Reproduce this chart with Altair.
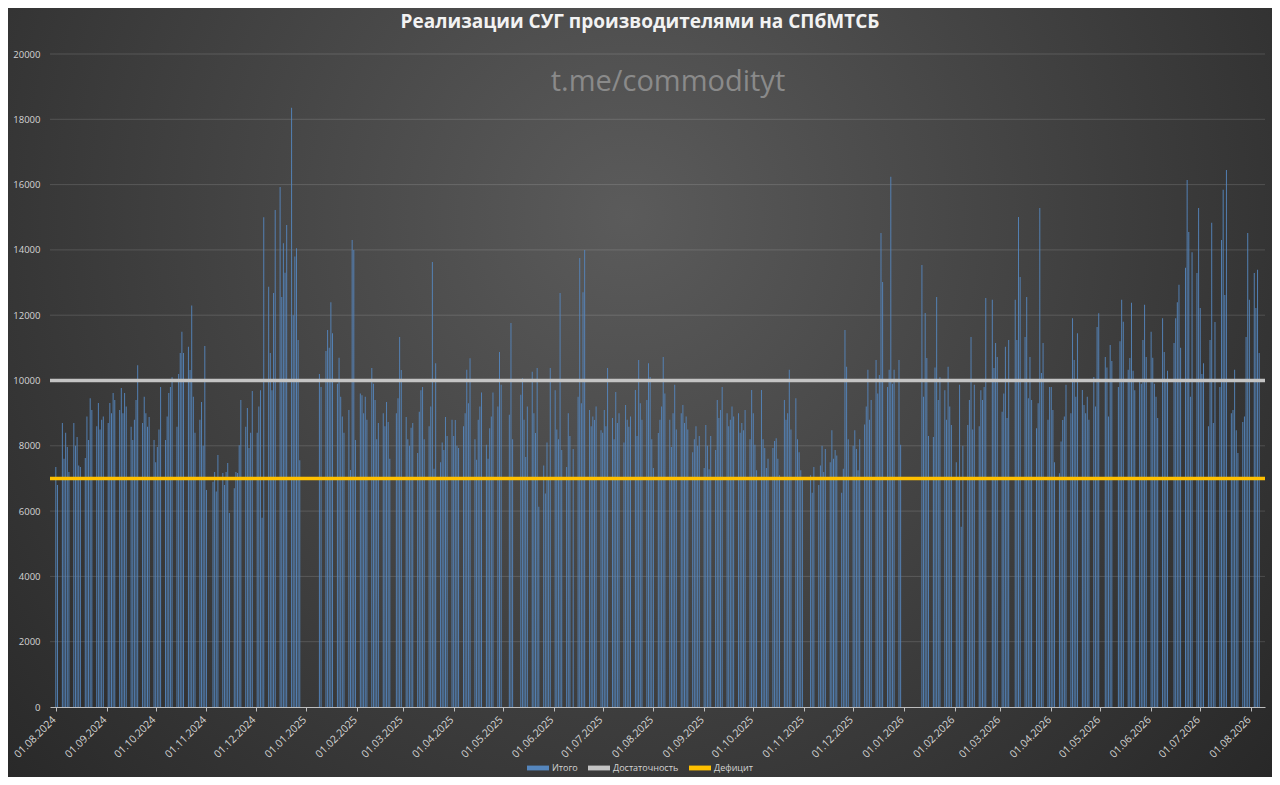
import calendar
from datetime import date

import altair as alt
import pandas as pd

# ---------------- text ----------------
title_text = "Реализации СУГ производителями на СПбМТСБ"
watermark_text = "t.me/commodityt"
series_names = ["Итого", "Достаточность", "Дефицит"]
series_colors = ["#5586bd", "#c4c4c4", "#ffc000"]

# ---------------- reference levels ----------------
sufficiency_level = 10000
deficit_level = 7000
y_ticks = [0, 2000, 4000, 6000, 8000, 10000, 12000, 14000, 16000, 18000, 20000]

# ---------------- daily values (trading days of each month) ----------------
v_2024_08 = [7350, 6800, 8700, 7600, 8400, 7960, 7200, 8700, 8000, 8270, 7400, 7350, 7630, 8900, 8180, 9460, 9100, 8600, 9310, 8500, 8800, 8900]
v_2024_09 = [8700, 9310, 9000, 9620, 9400, 9100, 9770, 9000, 9620, 9200, 8580, 8180, 8800, 9400, 10470, 8700, 9500, 9000, 8580, 8880, 8180]
v_2024_10 = [7500, 7960, 8500, 9800, 8180, 8900, 9620, 9800, 10100, 8580, 10200, 10840, 11490, 10840, 11030, 10320, 12300, 9500, 8400, 8800, 9340, 8000, 11060]
v_2024_11 = [6650, 6900, 7200, 6600, 7720, 7170, 6800, 7200, 7470, 5940, 6700, 7200, 7170, 8020, 9400, 8580, 9160, 7930, 8400, 9680]
v_2024_12 = [8400, 9200, 9700, 5800, 15000, 12870, 10840, 9700, 12680, 15220, 15930, 12560, 14200, 13300, 14760, 18350, 12000, 13800, 14050, 11240, 7560]
v_2025_01 = [10200, 9800, 10900, 11550, 11000, 12400, 11450, 9900, 10700, 9500, 8900, 8400, 9100, 7260, 14300, 14000, 8180]
v_2025_02 = [9600, 9550, 9000, 9500, 8800, 10380, 9900, 9400, 8200, 8700, 9000, 8600, 9340, 8730, 7600, 9000, 9460, 11330, 10320]
v_2025_03 = [8880, 8200, 8000, 8550, 8700, 7780, 9040, 9700, 9800, 8200, 8600, 9200, 13630, 7300, 10530, 7500, 8100, 7870, 8880, 8300, 8800]
v_2025_04 = [8300, 8790, 8000, 7930, 8600, 9000, 10330, 9300, 10680, 8200, 7570, 8800, 9200, 9630, 8030, 7600, 8540, 8900, 9630, 9200, 10870, 9870]
v_2025_05 = [8950, 11760, 8200, 9560, 10070, 8800, 7660, 9200, 10270, 9000, 8390, 10380, 6130, 7400, 6540, 8100, 7000, 10380]
v_2025_06 = [9700, 8500, 8200, 12680, 7870, 7350, 9000, 8300, 7900, 9500, 13750, 9300, 12700, 14000, 9100, 8600, 8900, 8790, 9200, 8480]
v_2025_07 = [8400, 9100, 8600, 10380, 8850, 8200, 9650, 8700, 9000, 8100, 9250, 8800, 8580, 8900, 9710, 8300, 10630, 9300, 8800, 9400, 10530, 10110, 8200]
v_2025_08 = [7320, 8390, 8800, 9200, 10720, 9600, 8800, 7960, 9000, 9870, 8500, 9000, 9250, 8700, 8900, 8500, 7800, 8200, 8600, 8000, 8300]
v_2025_09 = [7320, 8640, 8000, 7280, 8300, 7870, 9400, 8850, 9100, 9800, 9000, 8600, 8800, 9200, 8900, 9000, 8400, 8700, 8480, 9100, 8200, 9710]
v_2025_10 = [9000, 8030, 7250, 9710, 8200, 7930, 7320, 7600, 7930, 8150, 8230, 7600, 7100, 9400, 8800, 9000, 10330, 8500, 9460, 8200, 7800, 7250, 7000]
v_2025_11 = [7100, 6560, 7350, 6800, 7400, 8000, 7200, 7900, 7500, 8480, 7600, 7870, 7700, 6560, 7300, 11550, 10420, 8200]
v_2025_12 = [8000, 8480, 7900, 7250, 8200, 8650, 9200, 10330, 8800, 9400, 10630, 9600, 10170, 14520, 13020, 9800, 10330, 16240, 9900, 10330, 10630, 8030]
v_2026_01 = [13540, 9500, 12070, 10690, 8300, 8270, 10400, 12560, 9400, 10100, 9700, 8800, 10420, 9200, 8640]
v_2026_02 = [7500, 7000, 9870, 5520, 8000, 8640, 9400, 11330, 8500, 9870, 8600, 9700, 9400, 9800, 12530, 12470, 10380, 11150, 10720]
v_2026_03 = [9040, 9600, 11030, 8850, 11240, 12470, 11240, 15010, 13170, 11330, 12560, 9460, 10720, 9400, 8540, 9300, 15280, 10230, 11150, 8800, 9800]
v_2026_04 = [9800, 9100, 7500, 7160, 8130, 8790, 8900, 9870, 9000, 11910, 10630, 9500, 11450, 9710, 9250, 9000, 9500, 8800, 10110, 9200, 11640, 12060]
v_2026_05 = [10720, 10400, 8900, 11090, 10600, 9800, 11200, 12470, 11800, 10330, 10690, 12380, 10300, 9700, 10000, 9900, 11240, 12320, 10720]
v_2026_06 = [11490, 10700, 9900, 9500, 8850, 11910, 10870, 10000, 10300, 11150, 11910, 12400, 12930, 11000, 13450, 16140, 14550, 9500, 13930, 13290, 15280]
v_2026_07 = [12220, 10200, 10530, 8600, 11240, 14830, 8700, 11790, 9800, 14300, 15840, 12620, 16450, 9000, 9100, 10330, 8480, 7780, 8730, 8900, 11330, 14520, 12470]
v_2026_08 = [13290, 12220, 13390, 10840]

months = [
    (2024, 8, v_2024_08), (2024, 9, v_2024_09), (2024, 10, v_2024_10), (2024, 11, v_2024_11),
    (2024, 12, v_2024_12), (2025, 1, v_2025_01), (2025, 2, v_2025_02), (2025, 3, v_2025_03),
    (2025, 4, v_2025_04), (2025, 5, v_2025_05), (2025, 6, v_2025_06), (2025, 7, v_2025_07),
    (2025, 8, v_2025_08), (2025, 9, v_2025_09), (2025, 10, v_2025_10), (2025, 11, v_2025_11),
    (2025, 12, v_2025_12), (2026, 1, v_2026_01), (2026, 2, v_2026_02), (2026, 3, v_2026_03),
    (2026, 4, v_2026_04), (2026, 5, v_2026_05), (2026, 6, v_2026_06), (2026, 7, v_2026_07),
    (2026, 8, v_2026_08),
]

# non-trading weekdays and working Saturdays
holiday_list = [
    "2024-11-04", "2024-12-30", "2024-12-31",
    "2025-01-01", "2025-01-02", "2025-01-03", "2025-01-06", "2025-01-07", "2025-01-08",
    "2025-02-24", "2025-05-01", "2025-05-02", "2025-05-08", "2025-05-09", "2025-06-12",
    "2025-11-03", "2025-11-04", "2025-12-31",
    "2026-01-01", "2026-01-02", "2026-01-05", "2026-01-06", "2026-01-07", "2026-01-08", "2026-01-09",
    "2026-02-23", "2026-03-09", "2026-05-01", "2026-05-11", "2026-06-12",
]
working_saturdays = ["2024-12-28"]
last_date = "2026-08-06"

holidays = {date.fromisoformat(s) for s in holiday_list}
extra = {date.fromisoformat(s) for s in working_saturdays}
last_day = date.fromisoformat(last_date)

rows = []
for (yy, mm, vals) in months:
    n = calendar.monthrange(yy, mm)[1]
    days = [date(yy, mm, d) for d in range(1, n + 1)]
    days = [d for d in days if (d.weekday() < 5 or d in extra) and d not in holidays and d <= last_day]
    if len(days) != len(vals):
        raise ValueError(f"{yy}-{mm}: {len(days)} days vs {len(vals)} values")
    rows += [{"date": d.isoformat(), "value": v, "series": series_names[0]} for d, v in zip(days, vals)]
df = pd.DataFrame(rows)

# ---------------- layout ----------------
W, H = 1215, 653
PAD = {"left": 42, "top": 46, "right": 7, "bottom": 70}

x_scale = alt.Scale(
    type="utc",
    domain=[alt.DateTime(year=2024, month=7, date=31, hours=12, utc=True),
            alt.DateTime(year=2026, month=8, date=6, hours=12, utc=True)],
)
month_ticks = [alt.DateTime(year=2024 + (7 + i) // 12, month=(7 + i) % 12 + 1, date=1, utc=True) for i in range(25)]
y_scale = alt.Scale(domain=[0, 20000], nice=False)

label_color = "#d4d4d4"
font = "Open Sans"

x_axis = alt.Axis(
    title=None, values=month_ticks, format="%d.%m.%Y", labelAngle=-45, labelAlign="right",
    labelBaseline="middle", labelFontSize=10.5, labelFont=font, labelColor=label_color, labelPadding=7,
    labelOffset=-2, labelOverlap=False, labelFlush=False, grid=False, domainColor="#bdbdbd",
    domainWidth=1, tickColor="#bdbdbd", tickSize=4, zindex=1,
)
y_axis = alt.Axis(
    title=None, values=y_ticks, labelFontSize=9.5, labelFont=font, labelColor=label_color,
    labelPadding=10, domain=False, ticks=False, grid=False, zindex=1, format="d",
)

bg_gradient = {
    "gradient": "radial",
    "x1": 0.49, "y1": 0.36, "r1": 0,
    "x2": 0.49, "y2": 0.36, "r2": 0.7,
    "stops": [{"offset": 0, "color": "#5b5b5b"}, {"offset": 1, "color": "#262626"}],
}

background = alt.Chart(pd.DataFrame({"k": [0]})).mark_rect(fill=bg_gradient).encode(
    x=alt.value(-PAD["left"]), x2=alt.value(W + PAD["right"]),
    y=alt.value(-PAD["top"]), y2=alt.value(H + PAD["bottom"]),
)

grid = alt.Chart(pd.DataFrame({"g": y_ticks[1:]})).mark_rule(color="#ffffff", opacity=0.14, strokeWidth=1).encode(
    y=alt.Y("g:Q", scale=y_scale)
)

bars = alt.Chart(df).mark_bar(size=1.0, opacity=0.92).encode(
    x=alt.X("date:T", scale=x_scale, axis=x_axis),
    y=alt.Y("value:Q", scale=y_scale, axis=y_axis),
    color=alt.Color(
        "series:N",
        scale=alt.Scale(domain=series_names, range=series_colors),
        legend=alt.Legend(
            title=None, orient="none", legendX=477, legendY=703, direction="horizontal",
            symbolType="M-1,-0.22H1V0.22H-1Z", symbolSize=484, symbolStrokeWidth=0, symbolOpacity=1,
            labelFont=font, labelFontSize=9, labelColor=label_color, labelOffset=3,
            columnPadding=10, padding=0, zindex=1,
        ),
    ),
)

levels_df = pd.DataFrame({"level": [sufficiency_level, deficit_level], "name": series_names[1:]})
rule_suff = alt.Chart(levels_df).transform_filter(alt.datum.name == series_names[1]).mark_rule(
    color=series_colors[1], strokeWidth=3.5
).encode(y=alt.Y("level:Q", scale=y_scale))
rule_def = alt.Chart(levels_df).transform_filter(alt.datum.name == series_names[2]).mark_rule(
    color=series_colors[2], strokeWidth=3.5
).encode(y=alt.Y("level:Q", scale=y_scale))

watermark = alt.Chart(pd.DataFrame({"t": [watermark_text]})).mark_text(
    font=font, fontSize=29, color="#8a8a8a", align="center", baseline="middle"
).encode(x=alt.value(618), y=alt.value(28), text="t:N")

title_mark = alt.Chart(pd.DataFrame({"t": [title_text]})).mark_text(
    font=font, fontSize=19, fontWeight="bold", color="#f2f2f2", align="center", baseline="middle"
).encode(x=alt.value(590), y=alt.value(-32), text="t:N")

chart = alt.layer(background, grid, bars, rule_suff, rule_def, watermark, title_mark).properties(
    width=W, height=H,
    padding=PAD,
    autosize=alt.AutoSizeParams(type="none"),
).configure(background="#2b2b2b").configure_view(stroke=None)

chart.save("out.html", embed_options={"renderer": "svg", "actions": False})
